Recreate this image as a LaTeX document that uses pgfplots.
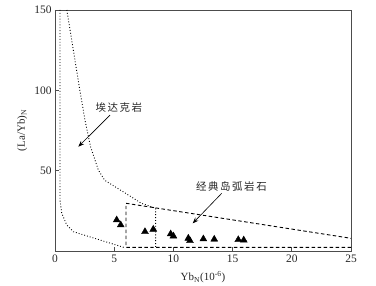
\documentclass[border=0pt]{standalone}
\usepackage{fontspec}
\setmainfont{Liberation Serif}
\newfontfamily\cjk[LetterSpace=15]{Noto Sans CJK SC}
\usepackage{pgfplots}
\pgfplotsset{compat=1.18}
\usetikzlibrary{arrows.meta}
\begin{document}
\begin{tikzpicture}
\begin{axis}[
  scale only axis, width=296bp, height=241bp,
  xmin=0, xmax=25, ymin=0, ymax=150,
  xtick={0,5,10,15,20,25}, ytick={50,100,150},
  tick align=inside, tick pos=left,
  major tick length=4bp,
  axis line style={draw=black!70, line width=1pt},
  every tick/.style={draw=black!70, line width=0.8pt},
  /pgf/number format/assume math mode=true,
  ticklabel style={font=\fontsize{11.5}{12}\selectfont, text=black!85},
  xlabel={Yb\textsubscript{N}(10\textsuperscript{-6})},
  ylabel={(La/Yb)\textsubscript{N}},
  label style={font=\fontsize{11}{12}\selectfont, text=black!85},
  xlabel style={at={(axis description cs:0.5,-0.108)}, anchor=center},
  ylabel style={at={(axis description cs:-0.111,0.5)}, anchor=center},
  clip=true,
]
% Adakite field (dotted)
\addplot[black, line width=0.9pt, dash pattern=on 0.9pt off 2pt] coordinates {
  (0.42,150) (0.42,31.7) (0.57,23.5) (0.99,16.2) (1.55,12) (5.9,2.05)};
\addplot[black, line width=0.9pt, dash pattern=on 0.9pt off 2pt] coordinates {
  (1,150) (2.1,100) (2.53,81.5) (3.0,65) (3.66,50.4) (4.2,44) (5.07,40)
  (6.2,34.8) (7.3,29.7) (8.5,26.6) (8.5,2.3)};
% Classic island arc field (dashed)
\addplot[black, line width=0.9pt, dash pattern=on 3.5pt off 2.5pt] coordinates {
  (25,2.3) (6,2.3) (6,29.7) (25,7.9)};
% Samples
\addplot[only marks, mark=triangle*, mark size=4pt, black] coordinates {
  (5.21,19.3) (5.55,16.2) (7.6,12.0) (8.3,13.5) (9.77,10.6) (10.0,9.3)
  (11.26,7.9) (11.4,6.4) (12.53,7.5) (13.45,7.3) (15.48,7.0) (15.94,6.8)};
% Labels
\node[font=\cjk\fontsize{10.5}{12}\selectfont, text=black!85] at (axis cs:5.4,89) {埃达克岩};
\draw[black, line width=0.6pt, -{Stealth[length=6bp,width=4.5bp]}] (axis cs:4.65,84.6) -- (axis cs:1.97,64.9);
\node[font=\cjk\fontsize{10.5}{12}\selectfont, text=black!85] at (axis cs:14.9,40) {经典岛弧岩石};
\draw[black, line width=0.6pt, -{Stealth[length=6bp,width=4.5bp]}] (axis cs:14.08,35.9) -- (axis cs:11.63,17.2);
\end{axis}
\pgfresetboundingbox
\path ([xshift=-55bp,yshift=-35bp]current axis.south west) rectangle ([xshift=25bp,yshift=10bp]current axis.north east);
\end{tikzpicture}
\end{document}
